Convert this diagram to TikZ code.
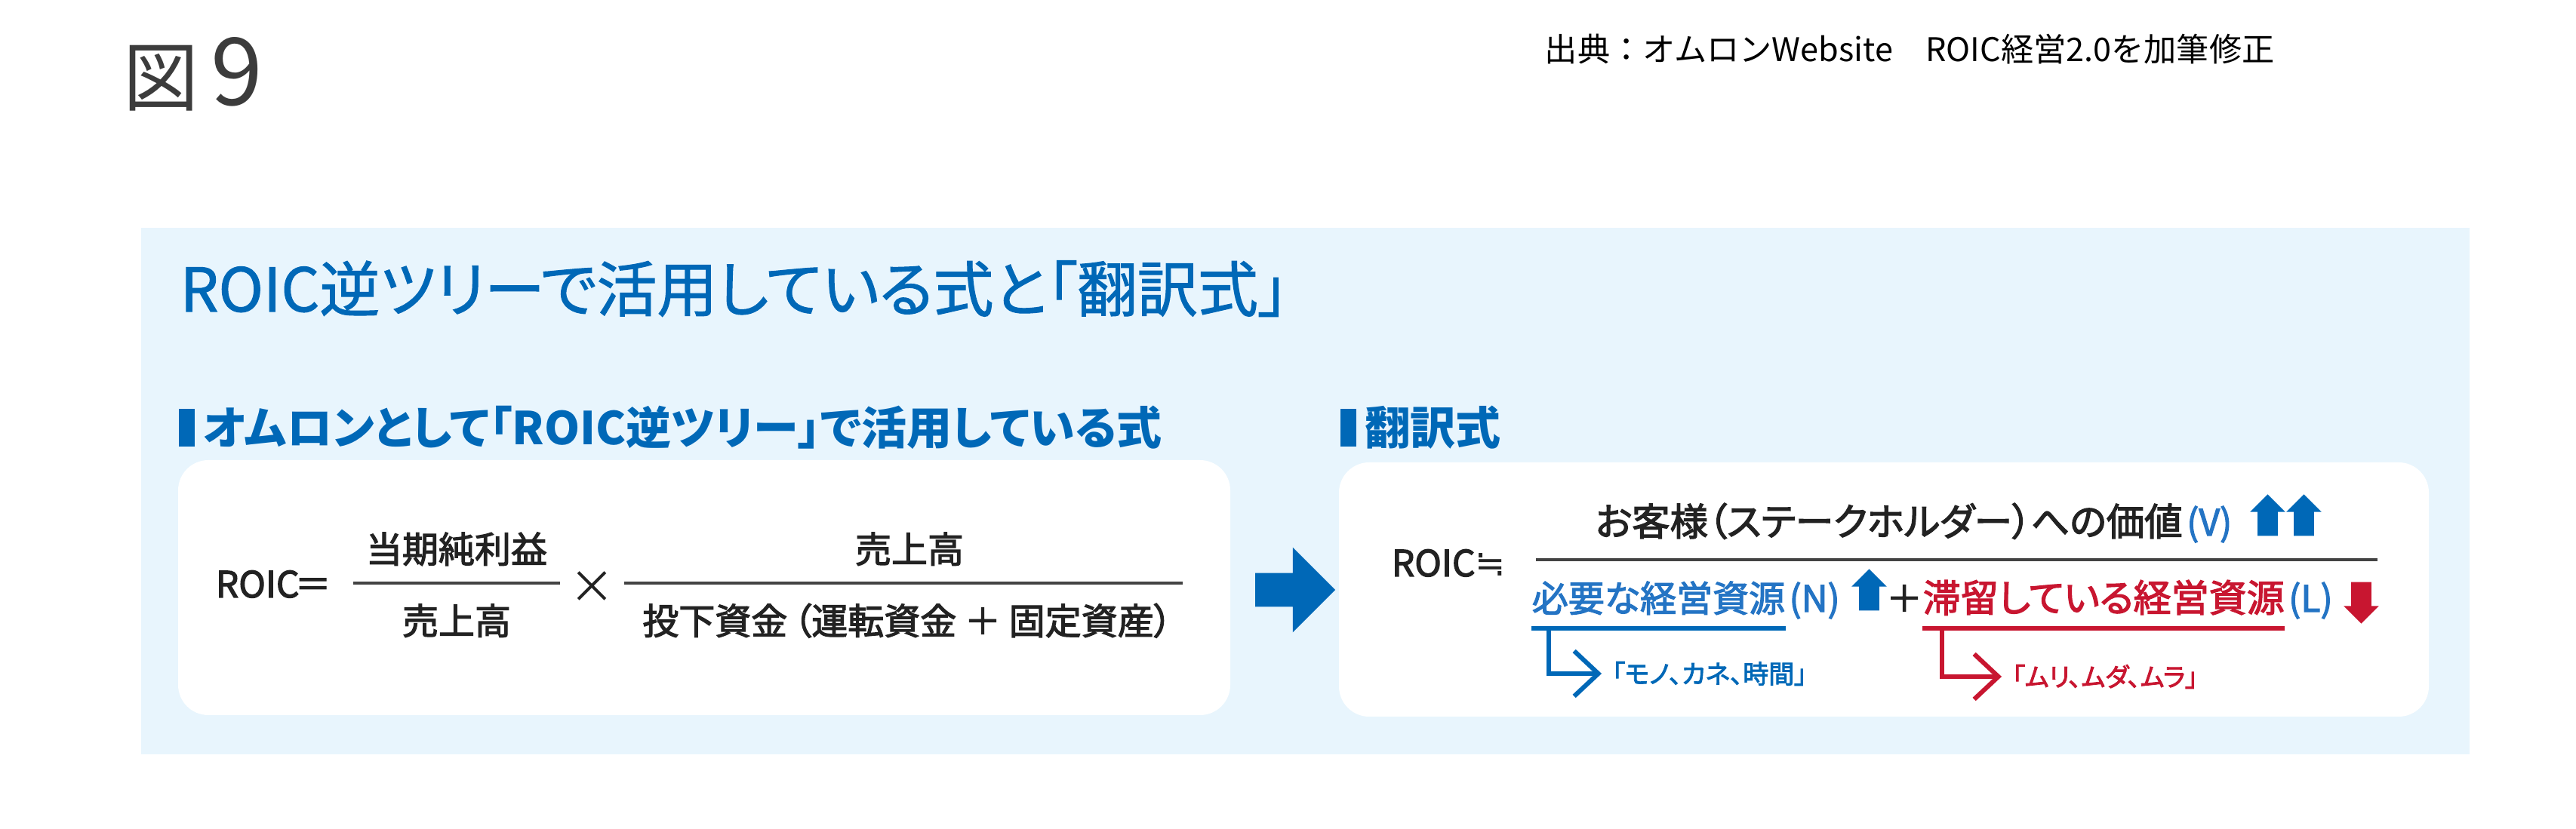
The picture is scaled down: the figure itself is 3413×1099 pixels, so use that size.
\documentclass[tikz,border=0pt]{standalone}
\usepackage{fontspec}
\setmainfont{Noto Sans CJK JP}[RawFeature=+palt]
\newfontfamily\medfont{Noto Sans CJK JP}[RawFeature=+palt,FakeBold=2.5]
\newfontfamily\headfont{Noto Sans CJK JP}[RawFeature=+palt,FakeBold=1.3]
\newfontfamily\plainfont{Noto Sans CJK JP}
\newfontfamily\symfont{DejaVu Sans}
\usetikzlibrary{positioning,shapes.arrows,arrows.meta}
\definecolor{omblue}{RGB}{0,104,183}
\definecolor{lblue}{RGB}{36,116,196}
\definecolor{omred}{RGB}{200,22,48}
\definecolor{bgblue}{RGB}{232,245,253}
\definecolor{ink}{RGB}{34,34,34}
\definecolor{figgray}{RGB}{60,60,60}
\begin{document}
\begin{tikzpicture}[x=.25pt,y=-.25pt,
  txt/.style={inner sep=0pt,text=ink,font=\medfont\fontsize{12}{14}\selectfont},
  sub/.style={inner sep=0pt,text=omblue,font=\fontsize{15}{18}\selectfont\bfseries},
  subbar/.style={fill=omblue,inner sep=0pt,minimum width=5.25pt,minimum height=12.5pt},
  note/.style={inner ysep=0pt,inner xsep=3.25pt,font=\medfont\fontsize{8.5}{10}\selectfont},
  box/.style={fill=white,rounded corners=10pt,inner sep=0pt},
  fracbar/.style={line width=1pt,draw=ink!85},
  uline/.style={line width=1.5pt},
  bracket/.style={line width=1.5pt,-{Straight Barb[length=8pt,width=15pt]}},
  upar/.style={single arrow,shape border rotate=90,fill=omblue,inner sep=3.125pt,
    minimum height=13.75pt,single arrow head extend=2.5pt},
  downar/.style={upar,shape border rotate=270,fill=omred}]
% Fondo
\fill[white] (0,0) rectangle (3413,1099);
\useasboundingbox (0,0) rectangle (3413,1099);
\fill[bgblue] (187,302) rectangle (3272,1000);
\node[anchor=base west,inner sep=0pt,text=figgray,font=\plainfont\fontsize{25}{30}\selectfont] (fig) at (163,140) {図\hspace{4pt}{\fontsize{31}{31}\selectfont 9}};
\node[anchor=base west,inner sep=0pt,text=black,font=\plainfont\fontsize{10.8}{12}\selectfont] (src) at (2046,82) {出典：オムロンWebsite　ROIC経営2.0を加筆修正};
% Titulos
\node[anchor=base west,inner sep=0pt,text=omblue,font=\headfont\fontsize{20}{24}\selectfont] (title) at (238,413) {ROIC逆ツリーで活用している式と「翻訳式」};
\node[subbar] (barl) at (247.5,567) {};
\node[sub,right=2.5pt of barl] (subl) {オムロンとして「ROIC逆ツリー」で活用している式};
\node[subbar] (barr) at (1786.5,567) {};
\node[sub,right=2.5pt of barr] (subr) {翻訳式};
% Cajas
\node[box,minimum width=348.5pt,minimum height=84.5pt] (left) at (933,779) {};
\node[box,minimum width=361pt,minimum height=84.25pt] (right) at (2496,781.5) {};
\node[single arrow,fill=omblue,inner sep=5.375pt,minimum height=26.5pt,
  single arrow head extend=8.5pt] (go) at (1705,782) {};
% Formula de ROIC
\node[txt,anchor=base west] (roicl) at (285,792) {ROIC\kern-1.5pt＝};
\node[txt,anchor=base] (npat) at (605,746) {当期純利益};
\node[txt,anchor=base] (salesa) at (605,841) {売上高};
\draw[fracbar] (468,773) -- (742,773);
\node[txt,font=\plainfont\fontsize{15}{18}\selectfont] (times) at (784,779) {×};
\node[txt,anchor=base] (salesb) at (1205,746) {売上高};
\node[txt,anchor=base] (capital) at (1202,841) {投下資金\,（運転資金 ＋ 固定資産）};
\draw[fracbar] (827,773) -- (1567,773);
% Formula traducida
\node[txt,anchor=base west] (roicr) at (1843,764) {ROIC{\symfont ≒}};
\node[txt,anchor=base west,font=\medfont\fontsize{12.6}{14}\selectfont] (value) at (2113,710) {お客様（ステークホルダー）への価値};
\node[txt,text=lblue,base right=1pt of value] (vv) {(V)};
\node[upar] (up1) at (3004.5,689.5) {};
\node[upar] (up2) at (3052.5,689.5) {};
\draw[fracbar] (2035,742) -- (3150,742);
\node[txt,text=lblue,anchor=base west] (need) at (2029,811) {必要な経営資源};
\node[txt,text=lblue,base right=1pt of need] (nn) {(N)};
\node[upar] (upn) at (2476.5,788.5) {};
\node[txt,anchor=base] (plus) at (2523,811) {＋};
\node[txt,text=omred,anchor=base west,font=\medfont\fontsize{12.5}{14}\selectfont] (stay) at (2547,811) {滞留している経営資源};
\node[txt,text=lblue,base right=1pt of stay] (ll) {(L)};
\node[downar] (downl) at (3128.5,792.5) {};
\draw[uline,omblue] ([yshift=-5.5pt]need.base west) -- ([yshift=-5.5pt]need.base east);
\draw[uline,omred] ([yshift=-5.5pt]stay.base west) -- ([yshift=-5.5pt]stay.base east);
\node[note,text=omblue,anchor=west] (mono) at (2122,893) {「モノ、カネ、時間」};
\node[note,text=omred,anchor=west] (muri) at (2652,897) {「ムリ、ムダ、ムラ」};
\draw[bracket,omblue] ([xshift=5.75pt,yshift=-5.5pt]need.base west) |- (mono.west);
\draw[bracket,omred] ([xshift=6.5pt,yshift=-5.5pt]stay.base west) |- (muri.west);
\end{tikzpicture}
\end{document}
